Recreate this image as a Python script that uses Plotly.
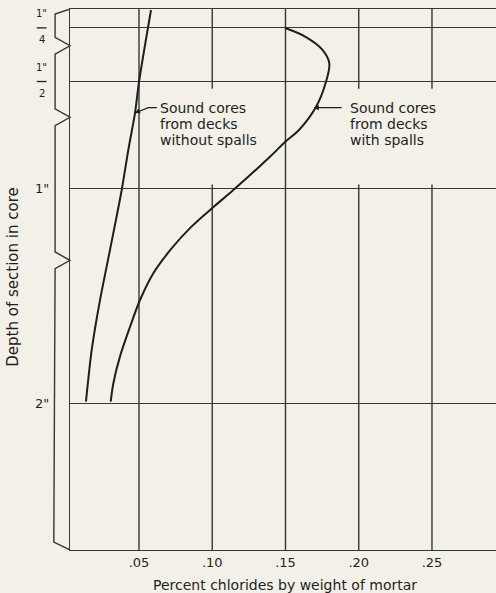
import plotly.graph_objects as go

# ---- data (depth in inches, percent chloride by weight of mortar) ----
depth_no_spall = [0.0, 0.503, 0.720, 0.979, 1.259, 1.678, 2.028, 2.378, 2.739]
cl_no_spall = [0.0582, 0.0500, 0.0473, 0.0427, 0.0382, 0.0302, 0.0234, 0.0177, 0.0138]

depth_spall = [0.126, 0.189, 0.280, 0.371, 0.503, 0.678, 0.839, 0.923, 1.026, 1.259,
               1.376, 1.515, 1.678, 1.841, 2.028, 2.215, 2.424, 2.610, 2.739]
cl_spall = [0.1497, 0.1640, 0.1754, 0.1799, 0.1776, 0.1708, 0.1592, 0.1497, 0.1394, 0.1144,
            0.1010, 0.0858, 0.0714, 0.0598, 0.0507, 0.0439, 0.0370, 0.0325, 0.0307]

x_ticks = [0.05, 0.10, 0.15, 0.20, 0.25]
x_ticktext = [".05", ".10", ".15", ".20", ".25"]

section_bounds = [0.0, 0.25, 0.75, 1.75, 3.75]          # core sections (in)
section_mid = [0.125, 0.5, 1.25, 2.75]                   # grid lines
section_num = ["1", "1", "1", "2"]
section_den = ["4", "2", "", ""]

label_no_spall = ["Sound cores", "from decks", "without spalls"]
label_spall = ["Sound cores", "from decks", "with spalls"]

# ---- style ----
BG = "#f3f1e7"
INK = "#1e1e1e"
GRID = "#363636"
FONT = "DejaVu Sans"
X_RANGE = [0.0029, 0.2937]
Y_RANGE = [3.776, -0.007]
gap = (0.55, 1.22)   # vertical grid lines interrupted where labels sit
gapped = [0.10, 0.20, 0.25]

fig = go.Figure()

fig.add_trace(go.Scatter(x=cl_no_spall, y=depth_no_spall, mode="lines",
                         line=dict(color=INK, width=2, shape="spline", smoothing=0.8),
                         hoverinfo="skip", showlegend=False))
fig.add_trace(go.Scatter(x=cl_spall, y=depth_spall, mode="lines",
                         line=dict(color=INK, width=2, shape="spline", smoothing=1.0),
                         hoverinfo="skip", showlegend=False))

shapes = []
# vertical grid lines
for xv in x_ticks:
    if xv in gapped:
        segs = [(Y_RANGE[1], gap[0]), (gap[1], Y_RANGE[0])]
    else:
        segs = [(Y_RANGE[1], Y_RANGE[0])]
    for a, b in segs:
        shapes.append(dict(type="line", xref="x", yref="y", x0=xv, x1=xv, y0=a, y1=b,
                           line=dict(color=GRID, width=1.4), layer="below"))

# bracket column at the left (section boundaries)
bx = -0.035
dz = 0.058
path = f"M 0,{Y_RANGE[1]} L {bx},{Y_RANGE[1] + 0.035}"
for b in section_bounds[1:-1]:
    path += f" L {bx},{b - dz} L 0,{b} L {bx},{b + dz}"
path += f" L {bx - 0.003},{Y_RANGE[0] - 0.055} L 0,{Y_RANGE[0]}"
shapes.append(dict(type="path", xref="paper", yref="y", path=path,
                   line=dict(color=GRID, width=1.4)))

# fraction bars for the 1/4 and 1/2 labels
for m, den in zip(section_mid, section_den):
    if den:
        shapes.append(dict(type="line", xref="paper", yref="y", x0=-0.078, x1=-0.055,
                           y0=m, y1=m, line=dict(color=INK, width=1.3)))

annotations = []
# section labels
for m, num, den in zip(section_mid, section_num, section_den):
    if den:
        annotations.append(dict(xref="paper", yref="y", x=-0.066, y=m - 0.045, text=num + '"',
                                showarrow=False, font=dict(family=FONT, size=10, color=INK),
                                xanchor="center", yanchor="bottom"))
        annotations.append(dict(xref="paper", yref="y", x=-0.0665, y=m + 0.03, text=den,
                                showarrow=False, font=dict(family=FONT, size=10, color=INK),
                                xanchor="center", yanchor="top"))
    else:
        annotations.append(dict(xref="paper", yref="y", x=-0.066, y=m, text=num + '"',
                                showarrow=False, font=dict(family=FONT, size=13, color=INK),
                                xanchor="center", yanchor="middle"))

# curve labels
def add_label(lines, x_left, y_first):
    for i, t in enumerate(lines):
        annotations.append(dict(xref="x", yref="y", x=x_left, y=y_first + i * 0.112, text=t,
                                showarrow=False, font=dict(family=FONT, size=14, color=INK),
                                xanchor="left", yanchor="middle"))

add_label(label_no_spall, 0.0630, 0.685)
add_label(label_spall, 0.1928, 0.685)

# leaders
fig.add_trace(go.Scatter(x=[0.0470, 0.0563, 0.0622], y=[0.722, 0.683, 0.683], mode="lines",
                         line=dict(color=INK, width=1.3), hoverinfo="skip", showlegend=False))
annotations.append(dict(xref="x", yref="y", x=0.1692, y=0.683, ax=0.1893, ay=0.683,
                        axref="x", ayref="y", text="", showarrow=True, arrowhead=2,
                        arrowsize=0.8, arrowwidth=1.3, arrowcolor=INK))
annotations.append(dict(xref="x", yref="y", x=0.0472, y=0.721, ax=0.0500, ay=0.708,
                        axref="x", ayref="y", text="", showarrow=True, arrowhead=2,
                        arrowsize=0.8, arrowwidth=1.3, arrowcolor=INK))

# axis titles
annotations.append(dict(xref="paper", yref="paper", x=-0.134, y=0.505,
                        text="Depth of section in core", textangle=-90, showarrow=False,
                        font=dict(family=FONT, size=15, color=INK),
                        xanchor="center", yanchor="middle"))
annotations.append(dict(xref="paper", yref="paper", x=0.505, y=-0.065,
                        text="Percent chlorides by weight of mortar", showarrow=False,
                        font=dict(family=FONT, size=14, color=INK),
                        xanchor="center", yanchor="middle"))

fig.update_layout(
    width=496, height=593,
    margin=dict(l=70, r=0, t=9, b=43),
    paper_bgcolor=BG, plot_bgcolor=BG,
    shapes=shapes, annotations=annotations,
    xaxis=dict(range=X_RANGE, tickvals=x_ticks, ticktext=x_ticktext, showgrid=False,
               zeroline=False, showline=True, mirror=True, linecolor=GRID, linewidth=1.4,
               ticks="", tickfont=dict(family=FONT, size=13, color=INK)),
    yaxis=dict(range=Y_RANGE, tickvals=section_mid, showticklabels=False, showgrid=True,
               gridcolor=GRID, gridwidth=1.4, zeroline=False, showline=True,
               linecolor=GRID, linewidth=1.4, ticks=""),
    showlegend=False,
)

fig.write_html(
    "out.html",
    config={"displayModeBar": False},
    post_script="document.body.style.margin='0';document.body.style.background='%s';" % BG,
)
